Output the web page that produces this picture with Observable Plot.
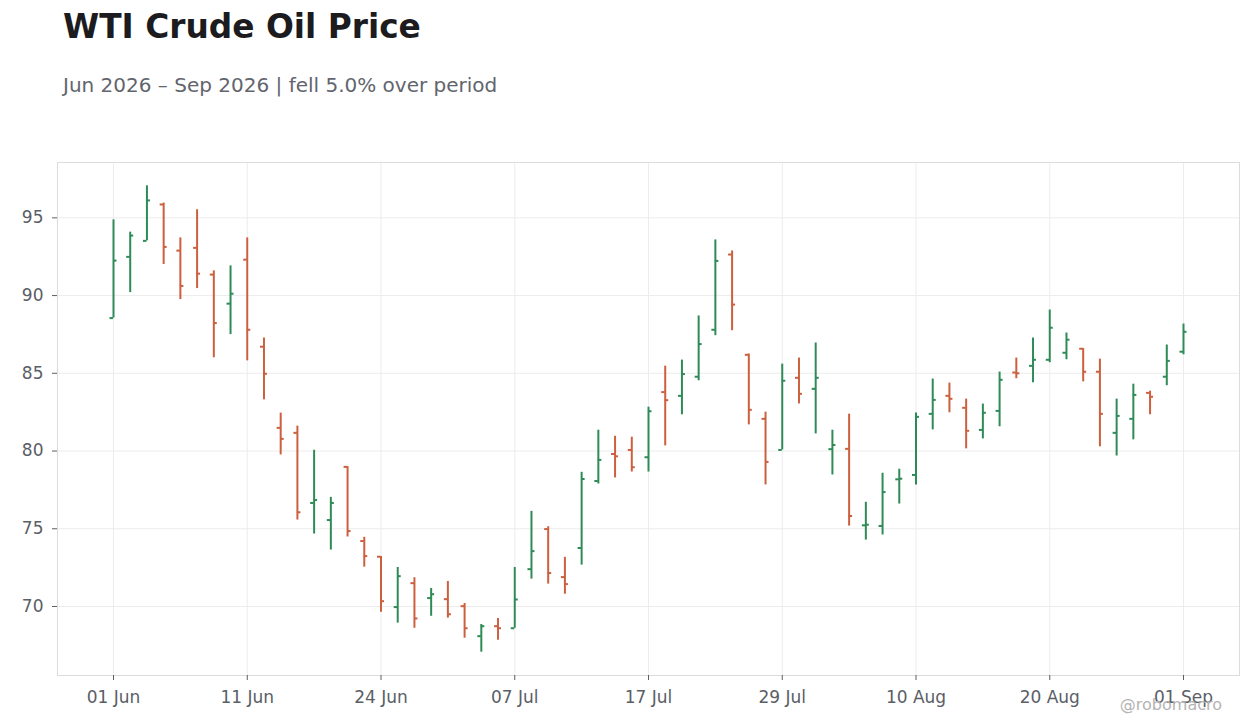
<!DOCTYPE html>
<html><head><meta charset="utf-8">
<script src="https://cdn.jsdelivr.net/npm/d3@7"></script>
<script src="https://cdn.jsdelivr.net/npm/@observablehq/plot@0.6"></script>
<style>
body{margin:0;background:#fff;font-family:"DejaVu Sans",sans-serif;}
#wrap{position:relative;width:1260px;height:728px;overflow:hidden;background:#fff;}
#title{position:absolute;left:63px;top:11px;font-size:32.8px;font-weight:bold;line-height:1;color:#1b1b20;white-space:nowrap;}
#subtitle{position:absolute;left:63px;top:75px;font-size:20px;line-height:1;color:#62656d;white-space:nowrap;}
#chart{position:absolute;left:0;top:130px;}
#credit{position:absolute;right:38px;top:697px;font-size:16px;line-height:1;color:#b4b4b4;white-space:nowrap;}
</style></head>
<body><div id="wrap">
<div id="title">WTI Crude Oil Price</div>
<div id="subtitle">Jun 2026 – Sep 2026 | fell 5.0% over period</div>
<div id="chart"></div>
<div id="credit">@robomacro</div>
</div>
<script>
const dates = [
  "2026-06-01","2026-06-02","2026-06-03","2026-06-04","2026-06-05",
  "2026-06-08","2026-06-09","2026-06-10","2026-06-11","2026-06-12",
  "2026-06-15","2026-06-16","2026-06-17","2026-06-18",
  "2026-06-22","2026-06-23","2026-06-24","2026-06-25","2026-06-26",
  "2026-06-29","2026-06-30","2026-07-01","2026-07-02",
  "2026-07-06","2026-07-07","2026-07-08","2026-07-09","2026-07-10",
  "2026-07-13","2026-07-14","2026-07-15","2026-07-16","2026-07-17",
  "2026-07-20","2026-07-21","2026-07-22","2026-07-23","2026-07-24",
  "2026-07-27","2026-07-28","2026-07-29","2026-07-30","2026-07-31",
  "2026-08-03","2026-08-04","2026-08-05","2026-08-06","2026-08-07",
  "2026-08-10","2026-08-11","2026-08-12","2026-08-13","2026-08-14",
  "2026-08-17","2026-08-18","2026-08-19","2026-08-20","2026-08-21",
  "2026-08-24","2026-08-25","2026-08-26","2026-08-27","2026-08-28",
  "2026-08-31","2026-09-01"
];
const open = [88.55,92.49,93.52,95.86,92.89,93.07,91.35,89.48,92.31,86.71,
  81.49,81.17,76.66,75.56,78.98,74.21,73.20,69.96,71.50,70.54,
  70.47,70.02,68.09,68.73,68.60,72.40,74.98,71.89,73.76,78.07,
  79.81,80.07,79.60,83.79,83.55,84.78,87.80,92.64,86.19,82.07,
  80.07,84.71,84.00,80.12,80.14,75.22,75.18,78.18,78.46,82.39,
  83.55,82.78,81.36,82.58,85.05,85.48,85.87,86.32,86.58,85.10,
  81.17,82.07,83.74,84.78,86.39];
const high = [94.87,94.08,97.06,95.95,93.71,95.52,91.59,91.91,93.71,87.27,
  82.44,81.60,80.05,77.02,79.00,74.45,73.22,72.51,71.85,71.16,
  71.61,70.19,68.84,69.23,72.51,76.12,75.13,73.16,78.63,81.34,
  80.95,80.89,82.82,85.46,85.85,88.69,93.58,92.87,86.24,82.50,
  85.59,85.98,86.95,81.34,82.37,76.70,78.57,78.83,82.44,84.63,
  84.37,83.34,83.02,85.08,85.98,87.27,89.07,87.59,86.60,85.91,
  83.34,84.30,83.85,86.82,88.17];
const low = [88.55,90.19,93.52,92.00,89.74,90.45,86.00,87.49,85.80,83.29,
  79.75,75.56,74.66,73.63,74.47,72.53,69.63,68.93,68.60,69.37,
  69.25,67.96,67.06,67.83,68.60,71.76,71.44,70.79,72.66,77.88,
  78.27,78.65,78.65,80.33,82.33,84.52,87.42,87.74,81.68,77.82,
  80.07,83.03,81.10,78.46,75.17,74.27,74.60,76.59,77.82,81.36,
  82.46,80.14,80.78,81.56,84.65,84.39,85.68,85.87,84.45,80.27,
  79.68,80.72,82.33,84.20,86.19];
const close = [92.25,93.86,96.12,93.13,90.62,91.41,88.23,90.12,87.80,84.97,
  80.78,76.06,76.85,76.66,74.85,73.24,70.34,71.95,69.23,70.79,
  69.50,68.60,68.73,68.60,70.45,73.56,72.15,71.44,78.20,79.43,
  79.66,78.96,82.56,83.27,84.95,86.88,92.23,89.42,82.65,79.30,
  84.52,83.68,84.71,80.39,75.82,75.26,77.36,78.22,82.20,83.29,
  83.36,81.30,82.46,84.58,85.00,85.87,87.93,87.16,85.10,82.39,
  82.26,83.61,83.49,85.80,87.67];
const tickDates = ["2026-06-01","2026-06-11","2026-06-24","2026-07-07","2026-07-17","2026-07-29","2026-08-10","2026-08-20","2026-09-01"];
const tickLabels = ["01 Jun","11 Jun","24 Jun","07 Jul","17 Jul","29 Jul","10 Aug","20 Aug","01 Sep"];
const yTicks = [70,75,80,85,90,95];

const green = "#2e8b57", red = "#cc5f3e";
const data = dates.map((d, i) => ({date: d, open: open[i], high: high[i], low: low[i], close: close[i], dir: close[i] >= open[i] ? "up" : "down"}));
const lo = d3.min(low), hi = d3.max(high), pad = (hi - lo) * 0.05;
const fmt = d => tickLabels[tickDates.indexOf(d)];

const chart = Plot.plot({
  width: 1260, height: 598,
  marginTop: 32, marginBottom: 53, marginLeft: 57, marginRight: 21,
  style: {fontFamily: "DejaVu Sans", fontSize: "17px", color: "#5a5e66", background: "transparent"},
  x: {type: "point", domain: dates, padding: 0, insetLeft: 56, insetRight: 56},
  y: {domain: [lo - pad, hi + pad]},
  color: {domain: ["up", "down"], range: [green, red]},
  marks: [
    Plot.gridX(tickDates, {stroke: "#ececec", strokeOpacity: 1}),
    Plot.gridY(yTicks, {stroke: "#ececec", strokeOpacity: 1}),
    Plot.frame({stroke: "#dcdcdc"}),
    Plot.axisX({ticks: tickDates, tickFormat: fmt, tickSize: 5, tickPadding: 10, label: null, stroke: "#5a5e66"}),
    Plot.axisY({ticks: yTicks, tickSize: 5, tickPadding: 9, label: null, stroke: "#5a5e66"}),
    Plot.ruleX(data, {x: "date", y1: "low", y2: "high", stroke: "dir", strokeWidth: 2}),
    Plot.ruleY(data, {x1: "date", x2: "date", y: "open", stroke: "dir", strokeWidth: 2, insetLeft: -3.5, insetRight: 0}),
    Plot.ruleY(data, {x1: "date", x2: "date", y: "close", stroke: "dir", strokeWidth: 2, insetLeft: 0, insetRight: -3.5})
  ]
});
document.getElementById("chart").appendChild(chart);
</script>
</body></html>
